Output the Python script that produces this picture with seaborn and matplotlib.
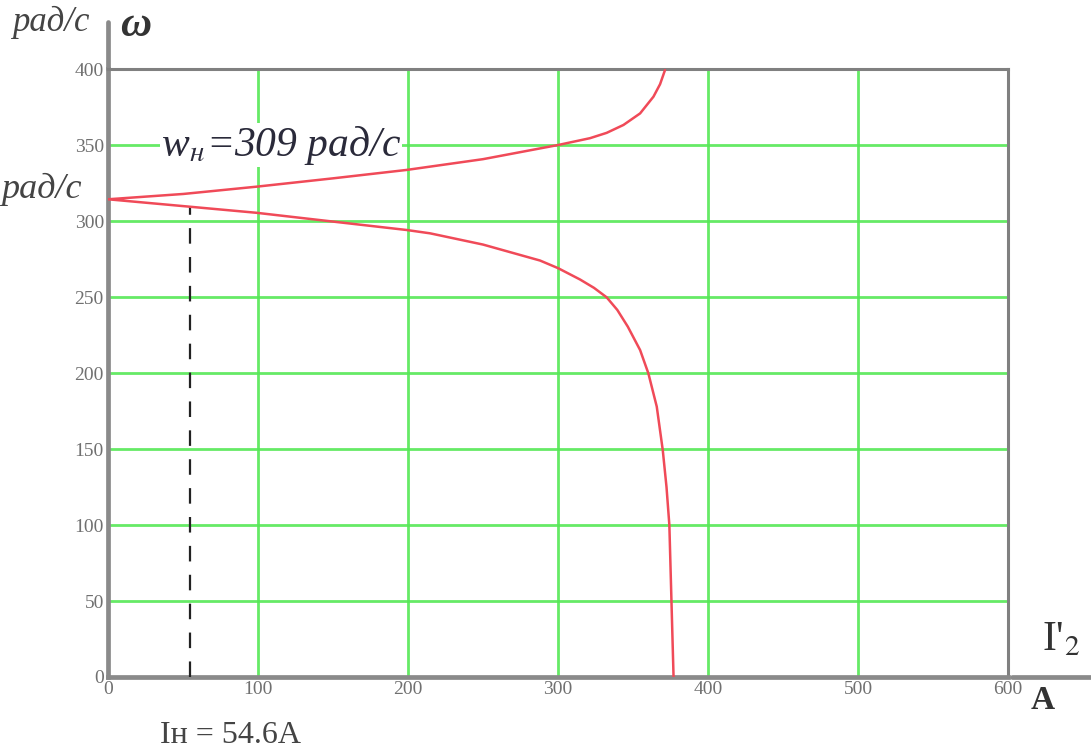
import matplotlib
matplotlib.use("Agg")
import matplotlib.pyplot as plt
import seaborn as sns
import pandas as pd

# Mechanical/current characteristic: omega (rad/s) vs I'2 (A)
upper_w = [399.3, 390, 381.8, 370.8, 363.2, 358.0, 354.5, 350.0, 340.7, 333.6, 328.1, 322.6, 317.8, 314.3]
upper_I = [371.3, 368, 363.6, 354.7, 343.6, 332.4, 321.3, 300.0, 250, 199, 150.2, 99.1, 50.2, 0]
lower_w = [314.3, 309.2, 305.4, 299.6, 294.1, 291.9, 284.5, 274.0, 269.0, 261.5, 256.0, 249.8,
           241.5, 230.5, 215.1, 199.8, 177.9, 149.3, 125, 100, 50, 0]
lower_I = [0, 56.9, 99.1, 150.2, 199, 214.7, 250, 288, 300, 314.7, 324, 332.4,
           339.5, 346.5, 354.7, 360.2, 365.8, 369.8, 372.3, 374.2, 375.6, 377]

x_ticks = [0, 100, 200, 300, 400, 500, 600]
y_ticks = [0, 50, 100, 150, 200, 250, 300, 350, 400]
I_nom = 54.6
w_nom = 309

df = pd.DataFrame({
    "I": upper_I + lower_I[1:],
    "w": upper_w + lower_w[1:],
})

sns.set_theme(style="white")
plt.rcParams['font.family'] = ['Liberation Serif', 'DejaVu Serif']
plt.rcParams['mathtext.fontset'] = 'stix'

fig = plt.figure(figsize=(10.91, 7.56), dpi=100)
ax = fig.add_axes([0.099, 0.1045, 0.825, 0.8042])

ax.set_xlim(0, 600)
ax.set_ylim(0, 400)
ax.set_xticks(x_ticks)
ax.set_yticks(y_ticks)
ax.grid(True, color="#55e855", linewidth=2.0, alpha=0.9)
ax.set_axisbelow(True)

sns.lineplot(data=df, x="I", y="w", sort=False, estimator=None, ax=ax,
             color="#f04a58", linewidth=1.8, zorder=5)

ax.vlines(I_nom, 0, w_nom, colors="#222222", linestyles=(0, (7, 6)), linewidth=1.6, zorder=4)

for side in ["left", "bottom"]:
    ax.spines[side].set_color("#8a8a8a")
    ax.spines[side].set_linewidth(3.4)
for side in ["top", "right"]:
    ax.spines[side].set_color("#808080")
    ax.spines[side].set_linewidth(2.2)
    ax.spines[side].set_visible(True)

# axis extensions
ax.plot([0, 0], [1.0, 1.077], transform=ax.transAxes, clip_on=False, color="#8a8a8a", linewidth=3.4)
ax.plot([1.004, 1.11], [0, 0], transform=ax.transAxes, clip_on=False, color="#8a8a8a", linewidth=3.4)

ax.tick_params(axis="both", which="both", length=0, labelsize=14, labelcolor="#707070", pad=3)
ax.set_xlabel("")
ax.set_ylabel("")

# labels
fig.text(0.011, 0.970, "рад/с", fontsize=25, style="italic", color="#444444", ha="left", va="center")
fig.text(0.110, 0.966, "ω", fontsize=31, fontweight="bold", style="italic", color="#333333", ha="left", va="center")
fig.text(0.001, 0.750, "рад/с", fontsize=26, style="italic", color="#444444", ha="left", va="center")
ax.text(35, 350, "w$_{н}$=309 рад/с", fontsize=30, style="italic", color="#2a2a3a",
        ha="left", va="center", zorder=6,
        bbox=dict(facecolor="white", edgecolor="none", pad=0.5))
fig.text(0.955, 0.153, "I'$_2$", fontsize=30, color="#333333", ha="left", va="center")
fig.text(0.945, 0.073, "A", fontsize=24, fontweight="bold", color="#333333", ha="left", va="center")
fig.text(0.147, 0.027, "Iн = 54.6A", fontsize=23, color="#444444", ha="left", va="center")

fig.savefig("out.png", dpi=100)
